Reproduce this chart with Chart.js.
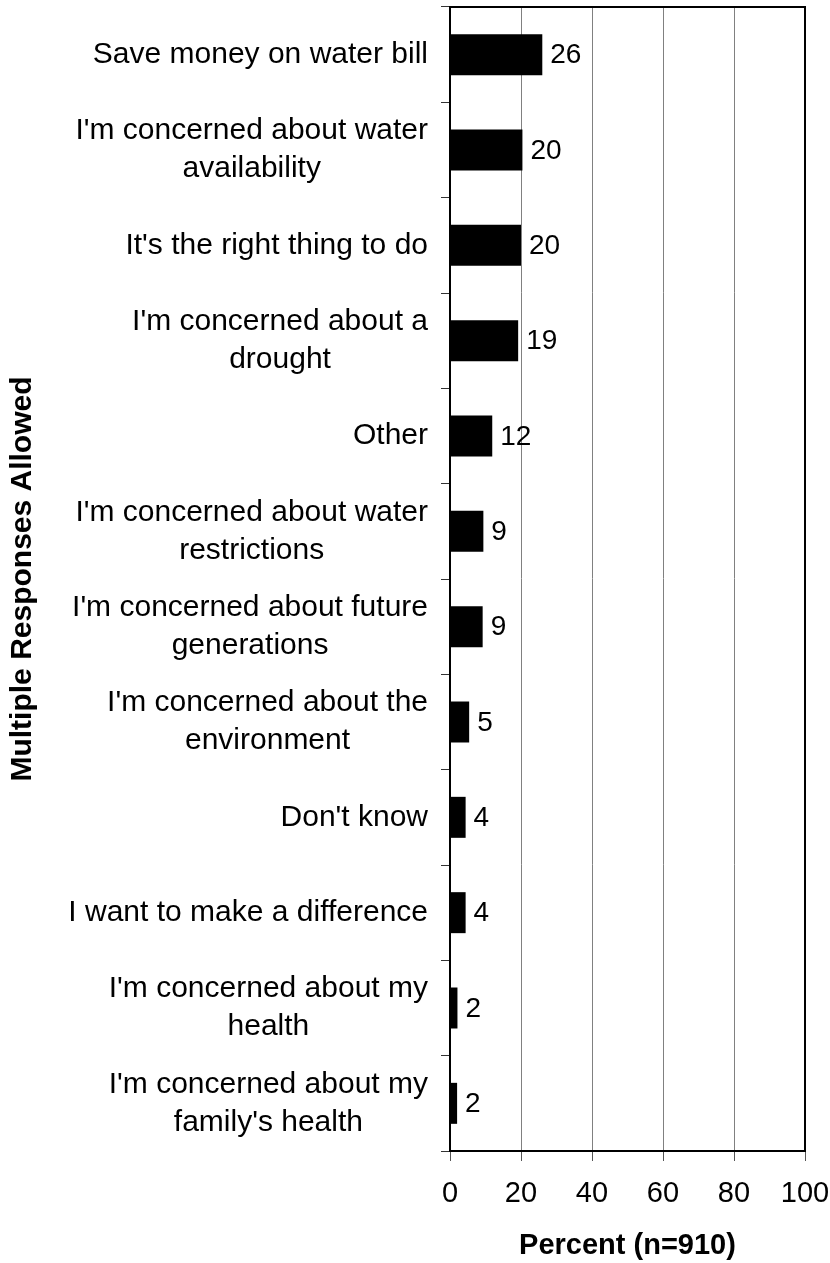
<!DOCTYPE html>
<html>
<head>
<meta charset="utf-8">
<script src="https://cdn.jsdelivr.net/npm/chart.js@4.4.1/dist/chart.umd.min.js"></script>
<style>
  html, body { margin: 0; padding: 0; background: #fff; }
</style>
</head>
<body>
<canvas id="reasonsChart" width="830" height="1263"></canvas>
<script>
// categories, top to bottom (wrapped the way the reference wraps them)
const categories = [
  ['Save money on water bill'],
  ["I'm concerned about water", 'availability'],
  ["It's the right thing to do"],
  ["I'm concerned about a", 'drought'],
  ['Other'],
  ["I'm concerned about water", 'restrictions'],
  ["I'm concerned about future", 'generations'],
  ["I'm concerned about the", 'environment'],
  ["Don't know"],
  ['I want to make a difference'],
  ["I'm concerned about my", 'health'],
  ["I'm concerned about my", "family's health"]
];

// percent of respondents
const percents = [26, 20.4, 20.0, 19.2, 11.9, 9.4, 9.2, 5.4, 4.4, 4.4, 2.1, 2.0];

const xMin = 0;
const xMax = 100;
const xStep = 20;

const xTitle = 'Percent (n=910)';
const yTitle = 'Multiple Responses Allowed';

const FONT = "'Liberation Sans', Arial, Helvetica, sans-serif";

// category labels: block right aligned to the axis, lines centred inside the block
const categoryLabels = {
  id: 'categoryLabels',
  afterDraw(chart) {
    const ctx = chart.ctx;
    const yScale = chart.scales.y;
    const rightEdge = 428;
    const lineGap = 38;
    ctx.save();
    ctx.font = '30px ' + FONT;
    ctx.fillStyle = '#000';
    ctx.textAlign = 'center';
    ctx.textBaseline = 'middle';
    categories.forEach((lines, i) => {
      const y = yScale.getPixelForTick(i);
      const widest = Math.max(...lines.map(l => ctx.measureText(l).width));
      const cx = rightEdge - widest / 2;
      const y0 = y - (lines.length - 1) * lineGap / 2;
      lines.forEach((l, j) => ctx.fillText(l, cx, y0 + j * lineGap));
    });
    ctx.restore();
  }
};

// value next to the end of each bar
const barValues = {
  id: 'barValues',
  afterDatasetsDraw(chart) {
    const ctx = chart.ctx;
    const meta = chart.getDatasetMeta(0);
    ctx.save();
    ctx.font = '28px ' + FONT;
    ctx.fillStyle = '#000';
    ctx.textAlign = 'left';
    ctx.textBaseline = 'middle';
    meta.data.forEach((bar, i) => {
      ctx.fillText(String(Math.round(percents[i])), bar.x + 8, bar.y + 1);
    });
    ctx.restore();
  }
};

// top and right edges of the plot frame
const plotFrame = {
  id: 'plotFrame',
  afterDraw(chart) {
    const {ctx, chartArea: a} = chart;
    ctx.save();
    ctx.strokeStyle = '#000';
    ctx.lineWidth = 2;
    ctx.beginPath();
    ctx.moveTo(a.left, a.top);
    ctx.lineTo(a.right, a.top);
    ctx.lineTo(a.right, a.bottom);
    ctx.stroke();
    ctx.restore();
  }
};

const ctx = document.getElementById('reasonsChart').getContext('2d');

new Chart(ctx, {
  type: 'bar',
  data: {
    labels: categories,
    datasets: [{
      data: percents,
      backgroundColor: '#000',
      borderWidth: 0,
      barPercentage: 0.43,
      categoryPercentage: 1.0
    }]
  },
  options: {
    indexAxis: 'y',
    responsive: false,
    animation: false,
    layout: {
      padding: { top: 7, right: 0, left: 0, bottom: 0 }
    },
    plugins: {
      legend: { display: false },
      tooltip: { enabled: false }
    },
    scales: {
      x: {
        min: xMin,
        max: xMax,
        ticks: {
          stepSize: xStep,
          color: '#000',
          padding: 16,
          font: { size: 29, family: FONT }
        },
        grid: {
          color: (c) => (c.tick && (c.tick.value === xMin || c.tick.value === xMax)) ? '#000' : '#808080',
          lineWidth: 1,
          tickLength: 10,
          tickColor: '#555'
        },
        border: { display: true, color: '#000', width: 2 },
        title: {
          display: true,
          text: xTitle,
          color: '#000',
          font: { size: 29, weight: 'bold', family: FONT },
          padding: { top: 0, bottom: 0 }
        },
        afterFit(scale) {
          scale.height = 112;
          scale.paddingLeft = 0;
          scale.paddingRight = 25;
        }
      },
      y: {
        ticks: { display: false },
        grid: {
          offset: true,
          drawOnChartArea: false,
          tickLength: 9,
          color: '#333'
        },
        border: { display: true, color: '#000', width: 2 },
        title: {
          display: true,
          text: yTitle,
          color: '#000',
          font: { size: 30, weight: 'bold', family: FONT },
          padding: { top: 5, bottom: 0 }
        },
        afterFit(scale) {
          scale.width = 450;
        }
      }
    }
  },
  plugins: [categoryLabels, barValues, plotFrame]
});
</script>
</body>
</html>
